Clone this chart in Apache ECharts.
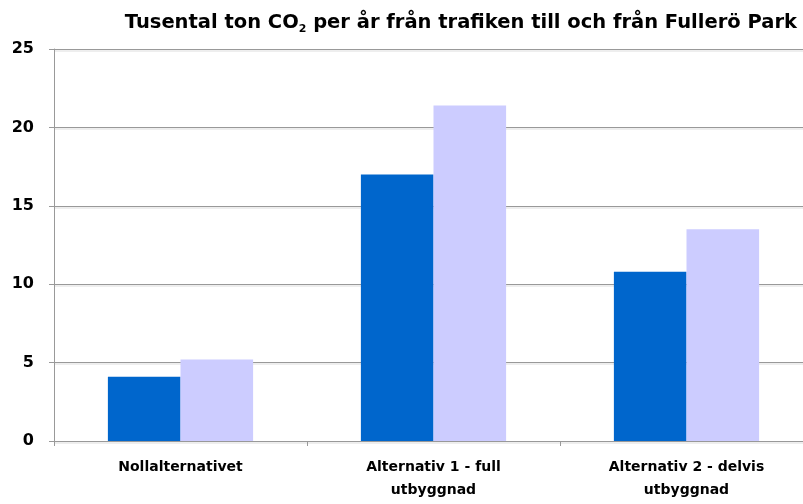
<!DOCTYPE html>
<html style="height: 100%">
<head>
    <meta charset="utf-8">
    <script src="https://cdn.jsdelivr.net/npm/echarts@6/dist/echarts.min.js"></script>
</head>
<body style="height: 100%; margin: 0; background: #fff">
    <div id="main" style="width: 803px; height: 504px"></div>
    <script type="text/javascript">
        // data
        var categories = ['Nollalternativet', 'Alternativ 1 - full\nutbyggnad', 'Alternativ 2 - delvis\nutbyggnad'];
        var seriesA = [4.1, 17.0, 10.8];
        var seriesB = [5.2, 21.4, 13.5];
        var yTicks = [0, 5, 10, 15, 20, 25];

        var myChart = echarts.init(document.getElementById('main'));

        var gridLine = {
            color: '#999',
            width: 1,
            shadowColor: '#ddd',
            shadowOffsetY: 1.5,
            shadowBlur: 0
        };

        var option = {
            animation: false,
            title: {
                text: '{t|Tusental ton CO}{s|2}{t| per år från trafiken till och från Fullerö Park}',
                right: 1,
                top: 6,
                textStyle: {
                    rich: {
                        t: { fontFamily: 'DejaVu Sans', fontWeight: 'bold', fontSize: 19.5, color: '#000' },
                        s: { fontFamily: 'DejaVu Sans', fontWeight: 'bold', fontSize: 11, color: '#000', padding: [13, 0, 0, 0] }
                    }
                }
            },
            grid: {
                left: 54,
                width: 759,
                top: 49,
                bottom: 63,
                outerBoundsMode: 'none'
            },
            xAxis: {
                type: 'category',
                data: categories,
                axisLine: { lineStyle: { color: '#999', width: 1 } },
                axisTick: { show: true, length: 5, lineStyle: { color: '#999' } },
                axisLabel: {
                    margin: 15,
                    fontFamily: 'DejaVu Sans',
                    fontWeight: 'bold',
                    fontSize: 14,
                    lineHeight: 23,
                    color: '#000'
                }
            },
            yAxis: {
                type: 'value',
                min: 0,
                max: yTicks[yTicks.length - 1],
                interval: 5,
                axisLine: { show: true, lineStyle: { color: '#999', width: 1 } },
                axisTick: { show: true, length: 5, lineStyle: { color: '#999' } },
                axisLabel: {
                    margin: 20,
                    fontFamily: 'DejaVu Sans',
                    fontWeight: 'bold',
                    fontSize: 16,
                    color: '#000'
                },
                splitLine: { lineStyle: gridLine }
            },
            series: [{
                type: 'bar',
                data: seriesA,
                barWidth: '28.7%',
                barGap: '0%',
                itemStyle: { color: '#0066CC' }
            }, {
                type: 'bar',
                data: seriesB,
                barWidth: '28.7%',
                barGap: '0%',
                itemStyle: { color: '#CCCCFF' }
            }]
        };

        myChart.setOption(option);
    </script>
</body>
</html>
